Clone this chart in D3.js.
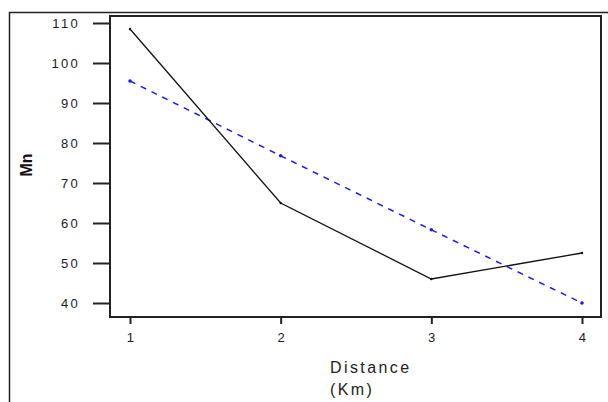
<!DOCTYPE html>
<html>
<head>
    <style>
        body { margin: 0; background: #fff; }
        text { font-family: "Liberation Sans", Arial, sans-serif; }
        .tick text { font-size: 13px; fill: #1a1a2a; letter-spacing: 2.3px; }
    </style>
    <script src="https://d3js.org/d3.v7.min.js"></script>
</head>
<body>
    <svg width="608" height="402"></svg>
    <script>
        // data
        var distance = [1, 2, 3, 4];
        var mnObserved = [108.5, 65, 46, 52.5];
        var mnFitted = [95.5, 76.8, 58.3, 40];
        var yTicks = [40, 50, 60, 70, 80, 90, 100, 110];

        var svg = d3.select("svg");

        var box = { left: 110, top: 16, right: 601, bottom: 317 };

        var x = d3.scaleLinear().domain([1, 4]).range([130, 582]);
        var y = d3.scaleLinear().domain([40, 110]).range([303, 23]);

        // outer frame
        svg.append("path")
            .attr("d", "M9.5,402 V12.5 H608")
            .attr("fill", "none")
            .attr("stroke", "#222")
            .attr("stroke-width", 1.5);

        // plot box
        svg.append("rect")
            .attr("x", box.left)
            .attr("y", box.top)
            .attr("width", box.right - box.left)
            .attr("height", box.bottom - box.top)
            .attr("fill", "none")
            .attr("stroke", "#222")
            .attr("stroke-width", 2);

        var yAxis = svg.append("g")
            .attr("transform", "translate(" + box.left + ",0)")
            .call(d3.axisLeft(y).tickValues(yTicks).tickSize(17).tickPadding(13));
        yAxis.select(".domain").remove();
        yAxis.selectAll(".tick line").attr("stroke", "#222").attr("stroke-width", 2);

        var xAxis = svg.append("g")
            .attr("transform", "translate(0," + box.bottom + ")")
            .call(d3.axisBottom(x).tickValues(distance).tickFormat(d3.format("d")).tickSize(7).tickPadding(9));
        xAxis.select(".domain").remove();
        xAxis.selectAll(".tick line").attr("stroke", "#222").attr("stroke-width", 2);
        xAxis.selectAll(".tick text").attr("dx", "1px");

        // axis titles
        svg.append("text")
            .attr("x", 330)
            .attr("y", 373)
            .attr("font-size", 16)
            .attr("letter-spacing", "2.4px")
            .attr("fill", "#222")
            .text("Distance");
        svg.append("text")
            .attr("x", 330)
            .attr("y", 395)
            .attr("font-size", 16)
            .attr("letter-spacing", "2.4px")
            .attr("fill", "#222")
            .text("(Km)");
        svg.append("text")
            .attr("transform", "translate(32,165) rotate(-90)")
            .attr("text-anchor", "middle")
            .attr("font-size", 16)
            .attr("font-weight", "bold")
            .attr("fill", "#111")
            .text("Mn");

        var line = d3.line()
            .x(function (d, i) { return x(distance[i]); })
            .y(function (d) { return y(d); });

        svg.append("path")
            .datum(mnFitted)
            .attr("d", line)
            .attr("fill", "none")
            .attr("stroke", "#1a1aff")
            .attr("stroke-width", 1.5)
            .attr("stroke-dasharray", "6,6");

        svg.append("path")
            .datum(mnObserved)
            .attr("d", line)
            .attr("fill", "none")
            .attr("stroke", "#111")
            .attr("stroke-width", 1.3);

        // small point markers
        svg.selectAll(".pf")
            .data(mnFitted)
            .enter().append("circle")
            .attr("cx", function (d, i) { return x(distance[i]); })
            .attr("cy", function (d) { return y(d); })
            .attr("r", 1.8)
            .attr("fill", "#1a1aff");
        svg.selectAll(".po")
            .data(mnObserved)
            .enter().append("circle")
            .attr("cx", function (d, i) { return x(distance[i]); })
            .attr("cy", function (d) { return y(d); })
            .attr("r", 1.2)
            .attr("fill", "#111");
    </script>
</body>
</html>
